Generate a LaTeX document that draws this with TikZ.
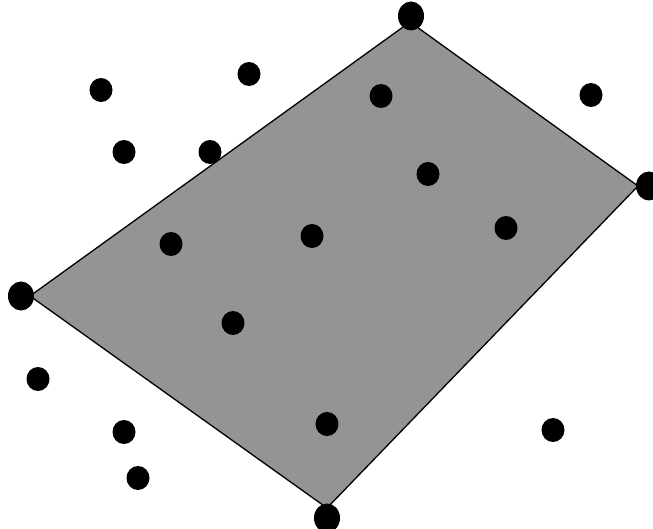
\documentclass[tikz,border=0pt]{standalone}
\usetikzlibrary{shapes.geometric}
\begin{document}
\begin{tikzpicture}[x=1pt,y=-1pt,
  dot/.style={ellipse,fill=black,inner sep=0pt,minimum width=23pt,minimum height=24pt},
  vdot/.style={ellipse,fill=black,inner sep=0pt,minimum width=26pt,minimum height=29pt},
  region/.style={fill=black!42,draw=black,line width=1.3pt,line join=miter}]
\useasboundingbox (0,0) rectangle (653,529);
% hull corner coordinates
\coordinate (ct) at (410,22);
\coordinate (cr) at (638,186);
\coordinate (cb) at (327,508);
\coordinate (cl) at (30,296);
\draw[region] (ct) -- (cr) -- (cb) -- (cl) -- cycle;
% hull vertices
\node[vdot] (vt) at (411,16) {};
\node[vdot] (vr) at (649,186) {};
\node[vdot] (vb) at (327,518) {};
\node[vdot] (vl) at (21,296) {};
% other points
\node[dot] (p1) at (101,90) {};
\node[dot] (p2) at (249,74) {};
\node[dot] (p3) at (381,96) {};
\node[dot] (p4) at (591,95) {};
\node[dot] (p5) at (124,152) {};
\node[dot] (p6) at (210,152) {};
\node[dot] (p7) at (428,174) {};
\node[dot] (p8) at (171,244) {};
\node[dot] (p9) at (312,236) {};
\node[dot] (p10) at (506,228) {};
\node[dot] (p11) at (233,323) {};
\node[dot] (p12) at (38,379) {};
\node[dot] (p13) at (124,432) {};
\node[dot] (p14) at (327,424) {};
\node[dot] (p15) at (553,430) {};
\node[dot] (p16) at (138,478) {};
\end{tikzpicture}
\end{document}
